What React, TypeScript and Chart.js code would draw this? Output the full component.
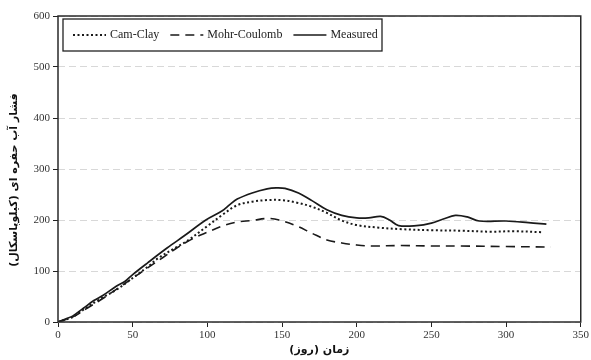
import React, { useEffect, useRef } from "react";
import { Chart, registerables } from "chart.js";

Chart.register(...registerables);

const seriesNames = ["Cam-Clay", "Mohr-Coulomb", "Measured"];

const camClayDays = [0, 10, 17, 27, 40, 48, 60, 67, 80, 86, 100, 110, 120, 130, 140, 150, 160, 170, 180, 190, 200, 215, 230, 250, 270, 290, 305, 325];
const camClayValues = [0, 10, 24, 43, 65, 82, 108, 125, 148, 158, 188, 210, 229, 236, 239, 239, 234, 226, 214, 199, 190, 185, 182, 180, 179, 177, 178, 176];

const mohrDays = [0, 10, 20, 30, 40, 50, 60, 70, 80, 90, 100, 110, 120, 130, 140, 148, 160, 170, 180, 190, 200, 210, 230, 250, 270, 300, 330];
const mohrValues = [0, 10, 28, 46, 66, 86, 106, 126, 146, 163, 176, 188, 196, 199, 203, 200, 188, 174, 161, 155, 151, 149, 150, 149, 149, 148, 147];

const measuredDays = [0, 5, 10, 17, 24, 30, 39, 45, 50, 60, 73, 85, 99, 110, 115, 120, 130, 140, 146, 152, 161, 170, 180, 190, 200, 208, 216, 222, 228, 240, 250, 258, 266, 274, 282, 300, 315, 327];
const measuredValues = [0, 6, 12, 27, 42, 52, 70, 80, 93, 116, 145, 170, 200, 218, 230, 241, 253, 261, 263, 262, 253, 238, 220, 209, 204, 204, 207, 200, 189, 189, 194, 202, 209, 206, 198, 198, 195, 192];

const xMin = 0, xMax = 350, xStep = 50;
const yMin = 0, yMax = 600, yStep = 100;

const xTitle = "زمان (روز)\u200F";
const yTitle = "فشار آب حفره ای (کیلوپاسکال)\u200F";

const lineColor = "#1a1a1a";
const dashes = [[2, 2.5], [9, 6], []];
const widths = [2, 1.6, 1.7];

const toPoints = (xs: number[], ys: number[]) => xs.map((x, i) => ({ x, y: ys[i] }));

const framePlugin = {
  id: "frame",
  afterDatasetsDraw(chart: any) {
    const { ctx, chartArea: a } = chart;
    ctx.save();
    ctx.strokeStyle = "#2a2a2a";
    ctx.lineWidth = 1.5;
    ctx.setLineDash([]);
    ctx.strokeRect(a.left, a.top, a.right - a.left, a.bottom - a.top);
    ctx.restore();
  },
};

const yTitlePlugin = {
  id: "yTitle",
  afterDraw(chart: any) {
    const { ctx, chartArea: a } = chart;
    ctx.save();
    ctx.translate(14, (a.top + a.bottom) / 2 + 11);
    ctx.rotate(-Math.PI / 2);
    ctx.font = 'bold 11px "DejaVu Sans"';
    ctx.fillStyle = "#111";
    ctx.textAlign = "center";
    ctx.textBaseline = "middle";
    ctx.fillText(yTitle, 0, 0);
    ctx.restore();
  },
};

const legendPlugin = {
  id: "boxLegend",
  afterDraw(chart: any) {
    const { ctx, chartArea: a } = chart;
    const left = a.left + 5;
    const top = a.top + 3;
    const w = 319;
    const h = 32;
    ctx.save();
    ctx.fillStyle = "#fff";
    ctx.fillRect(left, top, w, h);
    ctx.strokeStyle = "#222";
    ctx.lineWidth = 1.3;
    ctx.setLineDash([]);
    ctx.strokeRect(left, top, w, h);
    ctx.font = '12px "Liberation Serif"';
    ctx.textBaseline = "middle";
    ctx.textAlign = "left";
    const cy = top + h / 2;
    let x = left + 10;
    seriesNames.forEach((name, i) => {
      ctx.beginPath();
      ctx.strokeStyle = lineColor;
      ctx.lineWidth = widths[i];
      ctx.setLineDash(dashes[i]);
      ctx.moveTo(x, cy);
      ctx.lineTo(x + 33, cy);
      ctx.stroke();
      ctx.setLineDash([]);
      ctx.fillStyle = "#222";
      ctx.fillText(name, x + 37, cy);
      x += 37 + ctx.measureText(name).width + 11;
    });
    ctx.restore();
  },
};

export default function App() {
  const ref = useRef<HTMLCanvasElement | null>(null);
  useEffect(() => {
    if (!ref.current) return;
    const datasets = [
      toPoints(camClayDays, camClayValues),
      toPoints(mohrDays, mohrValues),
      toPoints(measuredDays, measuredValues),
    ].map((data, i) => ({
      label: seriesNames[i],
      data,
      borderColor: lineColor,
      backgroundColor: lineColor,
      borderWidth: widths[i],
      borderDash: dashes[i],
      pointRadius: 0,
      tension: 0.35,
      fill: false,
    }));
    const chart = new Chart(ref.current, {
      type: "line",
      data: { datasets },
      plugins: [framePlugin, legendPlugin, yTitlePlugin],
      options: {
        responsive: false,
        animation: false,
        layout: { padding: { top: 16, right: 9, left: 0, bottom: 0 } },
        plugins: { legend: { display: false }, tooltip: { enabled: false } },
        scales: {
          x: {
            type: "linear",
            min: xMin,
            max: xMax,
            ticks: { stepSize: xStep, color: "#333", font: { family: "Liberation Serif", size: 11 }, padding: 2 },
            grid: { drawOnChartArea: false, tickLength: 5, tickColor: "#222" },
            border: { display: false },
            title: { display: true, text: xTitle, color: "#111", font: { family: "DejaVu Sans", size: 11, weight: "bold" }, padding: { top: 2, bottom: 3 } },
            afterFit: (s: any) => { s.height = 38; },
          },
          y: {
            min: yMin,
            max: yMax,
            ticks: { stepSize: yStep, color: "#333", font: { family: "Liberation Serif", size: 11 }, padding: 3 },
            grid: { color: "#d8d8d8", tickColor: "#222", tickLength: 5, tickBorderDash: [], tickBorderDashOffset: 0 } as any,
            border: { display: false, dash: [7, 4] },
            title: { display: false },
            afterFit: (s: any) => { s.width = 58; },
          },
        },
      } as any,
    });
    return () => chart.destroy();
  }, []);
  return (
    <div style={{ position: "fixed", left: 0, top: 0, width: 591, height: 360, background: "#fff" }}>
      <canvas ref={ref} width={591} height={360} />
    </div>
  );
}
